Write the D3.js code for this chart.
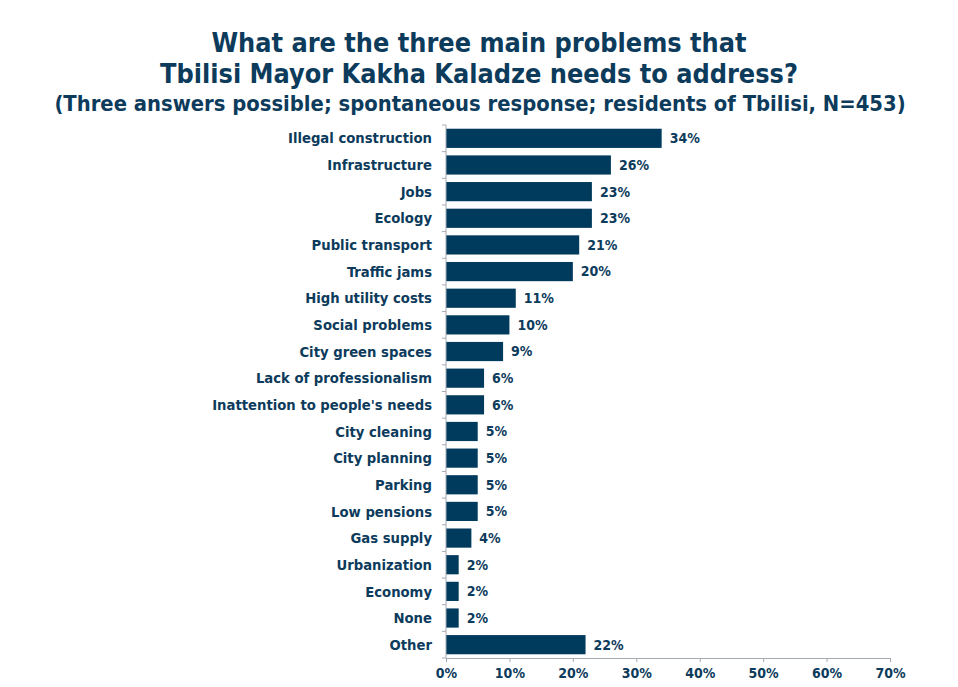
<!DOCTYPE html>
<html><head><meta charset="utf-8">
<script src="https://cdn.jsdelivr.net/npm/d3@7"></script>
<style>body{margin:0;background:#fff}</style>
</head><body>
<script>
const categories = ["Illegal construction","Infrastructure","Jobs","Ecology","Public transport","Traffic jams","High utility costs","Social problems","City green spaces","Lack of professionalism","Inattention to people's needs","City cleaning","City planning","Parking","Low pensions","Gas supply","Urbanization","Economy","None","Other"];
const values = [34,26,23,23,21,20,11,10,9,6,6,5,5,5,5,4,2,2,2,22];
const xTicks = [0,10,20,30,40,50,60,70];
const titleLines = ["What are the three main problems that","Tbilisi Mayor Kakha Kaladze needs to address?"];
const subtitle = "(Three answers possible; spontaneous response; residents of Tbilisi, N=453)";

const W=958,H=687;
const navy="#0d3b5c", bar="#003a5c", axisC="#a3aab2";
const font="'DejaVu Sans Condensed','DejaVu Sans',sans-serif";
const svg=d3.select("body").append("svg").attr("width",W).attr("height",H);
const m={left:446,right:890,top:125,bottom:658};
const x=d3.scaleLinear().domain([0,70]).range([m.left,m.right]);
const y=d3.scaleBand().domain(categories).range([m.top,m.bottom]).paddingInner(0.28).paddingOuter(0.14);

svg.selectAll("text.t").data(titleLines).join("text").attr("class","t")
 .attr("x",479).attr("y",(d,i)=>52+i*31).attr("text-anchor","middle")
 .attr("font-family",font).attr("font-weight","bold").attr("font-size",26.8).attr("fill",navy).text(d=>d);
svg.append("text").attr("x",480).attr("y",111).attr("text-anchor","middle")
 .attr("font-family",font).attr("font-weight","bold").attr("font-size",21.8).attr("fill",navy).text(subtitle);

svg.selectAll("rect.b").data(values).join("rect").attr("class","b")
 .attr("x",x(0)).attr("y",(d,i)=>y(categories[i])).attr("width",d=>x(d)-x(0)).attr("height",y.bandwidth()).attr("fill",bar);
svg.selectAll("text.v").data(values).join("text").attr("class","v")
 .attr("x",d=>x(d)+8).attr("y",(d,i)=>y(categories[i])+y.bandwidth()/2).attr("dy","0.35em")
 .attr("font-family",font).attr("font-weight","bold").attr("font-size",14).attr("fill",navy).text(d=>d+"%");

// y axis
const step=(m.bottom-m.top)/categories.length;
const ya=svg.append("g");
ya.append("line").attr("x1",m.left).attr("x2",m.left).attr("y1",m.top).attr("y2",m.bottom).attr("stroke",axisC);
ya.selectAll("line.tk").data(d3.range(categories.length+1)).join("line").attr("class","tk")
 .attr("x1",m.left-4).attr("x2",m.left).attr("y1",i=>m.top+i*step).attr("y2",i=>m.top+i*step).attr("stroke",axisC);
ya.selectAll("text").data(categories).join("text")
 .attr("x",m.left-14).attr("y",d=>y(d)+y.bandwidth()/2).attr("dy","0.35em").attr("text-anchor","end")
 .attr("font-family",font).attr("font-weight","bold").attr("font-size",14.7).attr("fill",navy).text(d=>d);

// x axis
const xa=svg.append("g").attr("transform",`translate(0,${m.bottom})`)
 .call(d3.axisBottom(x).tickValues(xTicks).tickFormat(d=>d+"%").tickSize(4).tickPadding(6));
xa.select(".domain").attr("stroke",axisC);
xa.selectAll(".tick line").attr("stroke",axisC);
xa.selectAll(".tick text").attr("font-family",font).attr("font-weight","bold").attr("font-size",14).attr("fill",navy);
</script>
</body></html>
